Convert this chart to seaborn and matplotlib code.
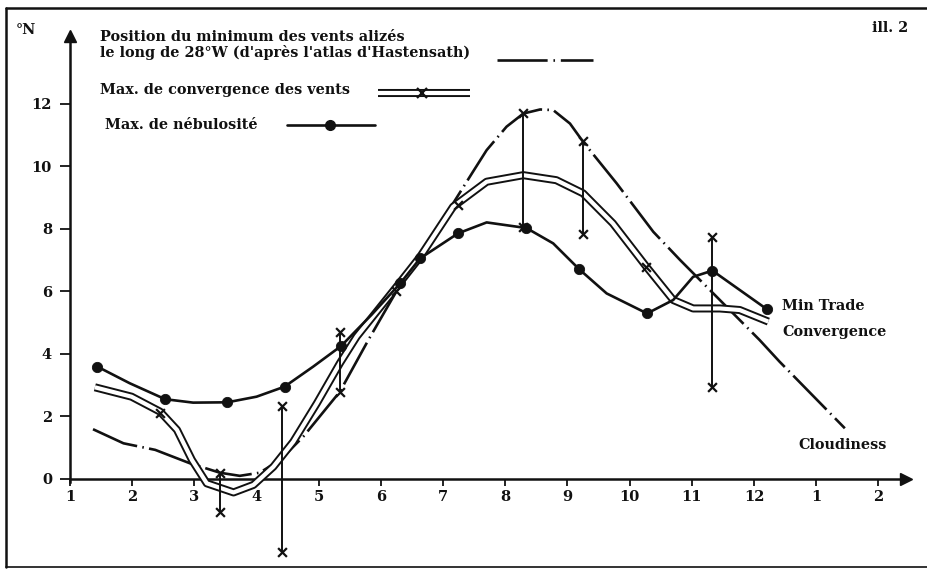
import numpy as np
import pandas as pd
import matplotlib
matplotlib.use("Agg")
import matplotlib.pyplot as plt
from matplotlib.lines import Line2D
import seaborn as sns

# months (1 = January ... 12 = December, 13/14 = Jan/Feb of next year)
month_ticks = list(range(1, 15))
month_labels = ['1', '2', '3', '4', '5', '6', '7', '8', '9', '10', '11', '12', '1', '2']
lat_ticks = [0, 2, 4, 6, 8, 10, 12]

# position of the trade-wind minimum along 28W (dash-dot)
trade_x = [1.37, 1.86, 2.37, 2.93, 3.41, 3.73, 4.05, 4.38, 4.75, 5.34, 5.80, 6.25, 6.47,
           7.00, 7.48, 7.70, 8.02, 8.29, 8.56, 8.77, 9.04, 9.25, 9.79, 10.38, 10.81,
           11.29, 12.09, 12.41, 13.46]
trade_y = [1.59, 1.14, 0.93, 0.50, 0.20, 0.10, 0.20, 0.61, 1.35, 2.79, 4.45, 6.00, 6.68,
           8.30, 9.82, 10.51, 11.26, 11.68, 11.81, 11.79, 11.36, 10.78, 9.45, 7.90, 7.00,
           6.04, 4.44, 3.75, 1.62]

# max. wind convergence (double line)
conv_x = [1.40, 1.99, 2.45, 2.72, 2.96, 3.20, 3.63, 3.95, 4.27, 4.59, 4.97, 5.34, 5.61,
          6.25, 6.63, 7.16, 7.70, 8.29, 8.82, 9.25, 9.73, 10.27, 10.70, 11.02, 11.45,
          11.77, 12.23]
conv_y = [2.93, 2.63, 2.15, 1.57, 0.61, -0.14, -0.43, -0.19, 0.39, 1.19, 2.42, 3.70, 4.55,
          6.14, 7.10, 8.70, 9.50, 9.71, 9.55, 9.13, 8.17, 6.78, 5.72, 5.45, 5.45,
          5.40, 5.03]
conv_mark_x = [2.45, 6.25, 7.24, 10.27]
conv_mark_y = [2.10, 6.00, 8.75, 6.78]

# range of the convergence maximum (vertical bars with crosses)
range_x = [3.41, 4.41, 5.34, 8.28, 9.25, 11.32]
range_top = [0.20, 2.33, 4.70, 11.70, 10.80, 7.73]
range_bot = [-1.05, -2.33, 2.78, 8.05, 7.83, 2.94]

# max. cloudiness (solid line with dots)
cloud_x = [1.44, 1.96, 2.53, 2.98, 3.53, 4.00, 4.45, 4.91, 5.36, 5.85, 6.31, 6.63, 7.24,
           7.70, 8.34, 8.77, 9.19, 9.63, 10.28, 10.70, 11.02, 11.33, 11.77, 12.21]
cloud_y = [3.59, 3.06, 2.55, 2.44, 2.45, 2.63, 2.95, 3.59, 4.25, 5.25, 6.25, 7.05, 7.85,
           8.20, 8.02, 7.53, 6.70, 5.93, 5.29, 5.72, 6.46, 6.66, 6.04, 5.42]
cloud_dot_x = [1.44, 2.53, 3.53, 4.45, 5.36, 6.31, 6.63, 7.24, 8.34, 9.19, 10.28, 11.33, 12.21]
cloud_dot_y = [3.59, 2.55, 2.45, 2.95, 4.25, 6.25, 7.05, 7.85, 8.02, 6.70, 5.29, 6.66, 5.42]

sns.set_theme(style="white")
plt.rcParams['font.family'] = ['DejaVu Serif']
plt.rcParams['font.weight'] = 'bold'

W, H = 927, 573
fig = plt.figure(figsize=(W / 100, H / 100), dpi=100)
ax = fig.add_axes([70 / W, 13 / H, 842 / W, 530 / H])
ax.set_xlim(1, 14.54)
ax.set_ylim(-2.59, 14.35)

ink = '#111111'
dashdot = (0, (18, 2.0, 0.6, 2.0))

trade = pd.DataFrame({'x': trade_x, 'y': trade_y})
conv = pd.DataFrame({'x': conv_x, 'y': conv_y})
cloud = pd.DataFrame({'x': cloud_x, 'y': cloud_y})

sns.lineplot(data=trade, x='x', y='y', sort=False, estimator=None, ax=ax,
             color=ink, lw=1.9, linestyle=dashdot, zorder=3)
sns.lineplot(data=conv, x='x', y='y', sort=False, estimator=None, ax=ax,
             color=ink, lw=5.8, zorder=4, solid_capstyle='butt')
sns.lineplot(data=conv, x='x', y='y', sort=False, estimator=None, ax=ax,
             color='white', lw=3.0, zorder=5, solid_capstyle='butt')
sns.lineplot(data=cloud, x='x', y='y', sort=False, estimator=None, ax=ax,
             color=ink, lw=1.9, zorder=6)
sns.scatterplot(x=cloud_dot_x, y=cloud_dot_y, ax=ax, color=ink, s=55,
                edgecolor=ink, zorder=7)

ax.vlines(range_x, range_bot, range_top, color=ink, lw=1.4, zorder=6)
sns.scatterplot(x=range_x + range_x, y=range_top + range_bot, ax=ax, marker='x',
                color=ink, s=40, linewidth=1.6, zorder=8)
sns.scatterplot(x=conv_mark_x, y=conv_mark_y, ax=ax, marker='x',
                color=ink, s=40, linewidth=1.6, zorder=8)

# axes drawn like the hand-made figure
for s in ['top', 'right']:
    ax.spines[s].set_visible(False)
ax.spines['bottom'].set_position(('data', 0))
ax.spines['bottom'].set_bounds(1, 14.4)
ax.spines['left'].set_position(('data', 1))
ax.spines['left'].set_bounds(-0.1, 14.1)
for s in ['bottom', 'left']:
    ax.spines[s].set_color(ink)
    ax.spines[s].set_linewidth(1.8)
ax.plot([14.45], [0], marker='>', ms=9, color=ink, clip_on=False)
ax.plot([1], [14.15], marker='^', ms=9, color=ink, clip_on=False)

ax.set_xticks(month_ticks)
ax.set_xticklabels(month_labels)
ax.set_yticks(lat_ticks)
ax.set_yticklabels([str(v) for v in lat_ticks])
ax.tick_params(axis='x', direction='out', length=5, width=1.3, color=ink,
               labelsize=10.5, pad=3, bottom=True)
ax.tick_params(axis='y', direction='out', length=7, width=1.3, color=ink,
               labelsize=10.5, pad=6, left=True)
for lab in ax.get_xticklabels() + ax.get_yticklabels():
    lab.set_fontweight('bold')
    lab.set_color(ink)
ax.set_xlabel('')
ax.set_ylabel('')


def fx(px):
    return px / W


def fy(py):
    return 1 - py / H


tkw = dict(fontsize=10.4, fontweight='bold', color=ink, va='center', ha='left')
fig.text(fx(16), fy(30), '°N', **tkw)
fig.text(fx(872), fy(28), 'ill. 2', **tkw)
fig.text(fx(100), fy(37), 'Position du minimum des vents alizés', **tkw)
fig.text(fx(100), fy(52), "le long de 28°W (d'après l'atlas d'Hastensath)", **tkw)
fig.text(fx(100), fy(90), 'Max. de convergence des vents', **tkw)
fig.text(fx(105), fy(125), 'Max. de nébulosité', **tkw)
fig.text(fx(782), fy(306), 'Min Trade', **tkw)
fig.text(fx(782), fy(332), 'Convergence', **tkw)
fig.text(fx(798), fy(445), 'Cloudiness', **tkw)

# legend samples
fig.add_artist(Line2D([fx(497), fx(593)], [fy(60), fy(60)], color=ink, lw=1.9,
                      linestyle=(0, (19, 2.2, 0.6, 2.2))))
fig.add_artist(Line2D([fx(378), fx(470)], [fy(93), fy(93)], color=ink, lw=5.8,
                      solid_capstyle='butt'))
fig.add_artist(Line2D([fx(378), fx(470)], [fy(93), fy(93)], color='white', lw=3.0,
                      solid_capstyle='butt'))
fig.add_artist(Line2D([fx(422)], [fy(93)], color=ink, marker='x', ms=7, mew=1.6, lw=0))
fig.add_artist(Line2D([fx(287), fx(375)], [fy(125), fy(125)], color=ink, lw=1.9))
fig.add_artist(Line2D([fx(330)], [fy(125)], color=ink, marker='o', ms=7, lw=0))

# frame of the illustration
fig.add_artist(Line2D([fx(6), fx(927)], [fy(8), fy(8)], color=ink, lw=1.8))
fig.add_artist(Line2D([fx(6), fx(6)], [fy(8), fy(567)], color=ink, lw=1.8))
fig.add_artist(Line2D([fx(6), fx(927)], [fy(567), fy(567)], color=ink, lw=1.2))

fig.savefig('out.png', dpi=100)
